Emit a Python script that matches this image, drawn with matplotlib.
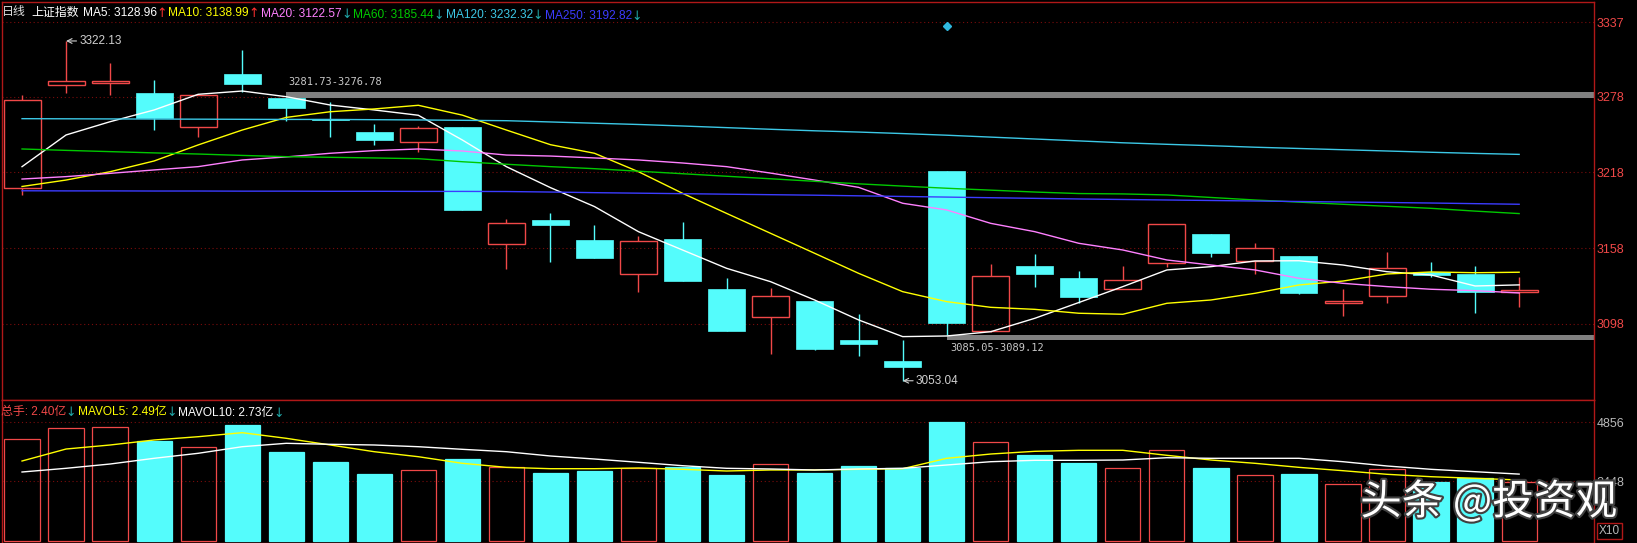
import matplotlib.pyplot as plt
from matplotlib.patches import Rectangle
import matplotlib.patheffects as pe

plt.rcParams['font.family'] = ['Liberation Sans', 'Noto Sans CJK SC', 'DejaVu Sans']

# daily candles, 上证指数
opens = [3206.0, 3287.5, 3289.0, 3281.3, 3254.4, 3295.7, 3276.78, 3260.5, 3250.1, 3241.9,
         3253.9, 3161.3, 3180.3, 3164.5, 3137.4, 3165.1, 3125.5, 3103.8, 3116.2, 3085.3,
         3068.5, 3219.2, 3092.5, 3144.2, 3134.2, 3126.0, 3146.0, 3169.0, 3147.9, 3151.8,
         3114.4, 3120.0, 3139.5, 3137.6, 3123.6]
highs = [3279.5, 3322.13, 3305.0, 3291.0, 3279.5, 3315.0, 3276.78, 3274.0, 3256.2, 3255.0,
         3253.9, 3181.0, 3185.6, 3176.4, 3167.7, 3178.5, 3134.2, 3126.3, 3116.2, 3105.9,
         3085.05, 3219.2, 3145.5, 3153.4, 3140.0, 3143.9, 3176.9, 3169.0, 3161.9, 3151.8,
         3125.9, 3155.0, 3147.1, 3143.9, 3135.2]
lows = [3200.3, 3280.8, 3279.5, 3252.0, 3246.4, 3281.73, 3258.4, 3246.4, 3240.0, 3234.4,
        3188.3, 3141.6, 3147.3, 3150.0, 3123.6, 3132.3, 3092.7, 3074.2, 3077.4, 3072.6,
        3053.04, 3089.12, 3092.0, 3127.0, 3114.4, 3126.0, 3143.4, 3150.8, 3137.6, 3121.5,
        3104.6, 3114.4, 3135.5, 3106.5, 3111.7]
closes = [3275.5, 3290.4, 3290.4, 3261.0, 3279.5, 3288.0, 3268.8, 3259.5, 3244.0, 3253.6,
          3188.3, 3178.0, 3176.2, 3150.5, 3163.5, 3132.3, 3092.7, 3119.9, 3078.4, 3082.4,
          3064.2, 3099.0, 3136.0, 3137.4, 3119.7, 3132.6, 3176.9, 3154.5, 3157.9, 3122.8,
          3116.2, 3142.1, 3136.9, 3123.1, 3124.7]

ma5 = [3222.6, 3247.7, 3258.2, 3267.5, 3279.9, 3282.5, 3278.0, 3271.4, 3267.5, 3263.3,
       3243.7, 3222.6, 3206.0, 3191.0, 3171.1, 3156.6, 3142.1, 3131.5, 3117.0, 3101.2,
       3088.0, 3088.5, 3091.9, 3102.5, 3115.0, 3127.6, 3140.8, 3143.4, 3147.9, 3148.1,
       3144.7, 3139.4, 3136.8, 3128.1, 3128.96]
ma10 = [3206.9, 3212.0, 3218.6, 3227.1, 3239.8, 3251.6, 3261.6, 3266.1, 3268.3, 3271.2,
        3263.4, 3251.6, 3240.0, 3233.2, 3218.6, 3201.5, 3185.6, 3169.8, 3154.0, 3138.1,
        3123.6, 3115.7, 3111.2, 3109.6, 3106.5, 3105.7, 3114.4, 3117.0, 3122.3, 3128.9,
        3132.0, 3137.6, 3139.2, 3138.6, 3138.99]
ma20 = [3212.8, 3214.7, 3217.3, 3220.0, 3222.6, 3227.9, 3230.3, 3233.2, 3235.3, 3236.6,
        3235.0, 3231.8, 3231.0, 3229.5, 3227.9, 3225.5, 3222.6, 3217.5, 3212.0, 3206.2,
        3193.6, 3188.3, 3177.7, 3171.1, 3161.9, 3156.6, 3148.7, 3144.7, 3140.8, 3134.2,
        3130.2, 3127.6, 3125.5, 3124.4, 3122.57]
ma60 = [3236.6, 3235.5, 3234.5, 3233.5, 3232.6, 3231.5, 3230.5, 3230.0, 3229.5, 3228.9,
        3226.5, 3224.5, 3222.6, 3221.0, 3219.0, 3217.0, 3215.0, 3213.0, 3211.0, 3209.0,
        3207.2, 3205.5, 3204.0, 3202.5, 3201.3, 3201.0, 3200.2, 3198.2, 3196.2, 3194.5,
        3192.8, 3191.2, 3189.6, 3187.4, 3185.44]
ma120 = [3260.6, 3260.5, 3260.4, 3260.3, 3260.2, 3260.1, 3260.0, 3260.0, 3259.8, 3259.6,
         3259.3, 3259.0, 3258.0, 3257.0, 3256.0, 3254.8, 3253.5, 3252.2, 3251.0, 3250.0,
         3248.8, 3247.5, 3246.0, 3244.5, 3243.0, 3241.5, 3240.3, 3239.2, 3238.0, 3237.0,
         3236.0, 3235.0, 3234.0, 3233.1, 3232.32]
ma250 = [3203.5, 3203.4, 3203.4, 3203.3, 3203.3, 3203.2, 3203.2, 3203.1, 3203.1, 3203.0,
         3203.0, 3202.9, 3202.5, 3202.0, 3201.6, 3201.2, 3200.8, 3200.4, 3200.0, 3199.5,
         3199.0, 3198.5, 3198.0, 3197.5, 3197.0, 3196.6, 3196.2, 3195.8, 3195.4, 3195.0,
         3194.6, 3194.2, 3193.8, 3193.3, 3192.82]

# volume in 10万手 (axis shows X10)
volume = [4150, 4599, 4640, 4081, 3848, 4733, 3632, 3224, 2734, 2885,
          3346, 3020, 2775, 2857, 2992, 3006, 2694, 3130, 2788, 3061,
          2979, 4856, 4027, 3510, 3196, 2967, 3701, 2979, 2681, 2734,
          2314, 2926, 2396, 2559, 2400]
mavol5 = [3265, 3754, 3918, 4122, 4256, 4420, 4191, 3918, 3644, 3440,
          3171, 3006, 2951, 2951, 2979, 2926, 2857, 2898, 2898, 2926,
          2951, 3375, 3550, 3660, 3701, 3701, 3497, 3306, 3171, 3006,
          2869, 2722, 2624, 2559, 2490]
mavol10 = [2816, 2967, 3142, 3375, 3579, 3848, 3987, 3946, 3918, 3848,
           3742, 3644, 3469, 3346, 3212, 3073, 2967, 2939, 2898, 2939,
           2967, 3102, 3236, 3293, 3293, 3306, 3399, 3375, 3375, 3375,
           3236, 3061, 2926, 2828, 2730]

price_ticks = [3098, 3158, 3218, 3278, 3337]
vol_ticks = [2448, 4856]
# gaps: (start candle, low, high)
gaps = [(6, 3276.78, 3281.73), (21, 3085.05, 3089.12)]

RED = '#f04848'
CYAN = '#54fcfc'
BORDER = '#b01818'
GRID = '#7a0c0c'
UPC = '#ff3030'
DNC = '#20a8a8'

W, H = 1637, 543
fig = plt.figure(figsize=(W / 100, H / 100), dpi=100, facecolor='black')


def box(x0, y0, x1, y1):
    return [x0 / W, 1 - y1 / H, (x1 - x0) / W, (y1 - y0) / H]


ax = fig.add_axes(box(2, 2, 1594, 400), facecolor='black')
axv = fig.add_axes(box(2, 400, 1594, 543), facecolor='black')
xmax = 35.7
n = len(closes)
idx = list(range(n))

# candles
bw = 0.84
for i in idx:
    o, h, l, c = opens[i], highs[i], lows[i], closes[i]
    lo_b, hi_b = min(o, c), max(o, c)
    if c >= o:
        ax.vlines(i, l, lo_b, color=RED, lw=1, zorder=2)
        ax.vlines(i, hi_b, h, color=RED, lw=1, zorder=2)
        ax.add_patch(Rectangle((i - bw / 2, lo_b), bw, max(hi_b - lo_b, 0.4),
                               facecolor='none', edgecolor=RED, lw=1, zorder=2))
    else:
        ax.vlines(i, l, h, color=CYAN, lw=1, zorder=2)
        ax.add_patch(Rectangle((i - bw / 2, lo_b), bw, max(hi_b - lo_b, 0.6),
                               facecolor=CYAN, edgecolor=CYAN, lw=0.5, zorder=2))

ma_lines = [('MA5', ma5, '#ffffff'), ('MA10', ma10, '#ffff00'), ('MA20', ma20, '#ff80ff'),
            ('MA60', ma60, '#00c800'), ('MA120', ma120, '#3cc8e6'), ('MA250', ma250, '#3c3cff')]
for name, vals, col in ma_lines:
    ax.plot(idx, vals, color=col, lw=1, zorder=3)

# gap bands
for start, lo, hi in gaps:
    ax.fill_between([start, xmax], lo, hi, color='#808080', lw=0, zorder=2.5)
ax.text(gaps[0][0] + 0.05, 3289.5, f'{gaps[0][2]:.2f}-{gaps[0][1]:.2f}', color='#c8c8c8',
        fontsize=7.5, family='DejaVu Sans Mono', va='center', ha='left')
ax.text(gaps[1][0] + 0.08, 3079.0, f'{gaps[1][1]:.2f}-{gaps[1][2]:.2f}', color='#c8c8c8',
        fontsize=7.5, family='DejaVu Sans Mono', va='center', ha='left')

# extreme labels
hi_i = highs.index(max(highs))
lo_i = lows.index(min(lows))
ax.annotate(f'{highs[hi_i]:.2f}', xy=(hi_i, highs[hi_i]), xytext=(hi_i + 0.3, highs[hi_i]),
            color='#d0d0d0', fontsize=8.5, va='center', ha='left',
            arrowprops=dict(arrowstyle='->', color='#d0d0d0', lw=0.8, shrinkA=0, shrinkB=0))
ax.annotate(f'{lows[lo_i]:.2f}', xy=(lo_i, lows[lo_i]), xytext=(lo_i + 0.3, lows[lo_i]),
            color='#d0d0d0', fontsize=8.5, va='center', ha='left',
            arrowprops=dict(arrowstyle='->', color='#d0d0d0', lw=0.8, shrinkA=0, shrinkB=0))
ax.plot([21], [3334], marker='D', color='#30b8e0', markersize=4, zorder=4)

for t in price_ticks:
    ax.axhline(t, color=GRID, lw=0.8, ls=(0, (1, 2.5)), zorder=0.5)
ax.set_xlim(-0.455, xmax)
ax.set_ylim(3037.8, 3353.0)
ax.set_xticks([])
ax.yaxis.tick_right()
ax.set_yticks(price_ticks)
ax.set_yticklabels([str(t) for t in price_ticks])
ax.tick_params(axis='y', length=0, pad=2, labelcolor=RED, labelsize=9)

# volume pane
up = [closes[i] >= opens[i] for i in idx]
axv.bar(idx, volume, width=0.8, facecolor=['none' if u else CYAN for u in up],
        edgecolor=[RED if u else CYAN for u in up], lw=0.9, zorder=2)
axv.plot(idx, mavol5, color='#ffff00', lw=1, zorder=3)
axv.plot(idx, mavol10, color='#ffffff', lw=1, zorder=3)
for t in vol_ticks:
    axv.axhline(t, color=GRID, lw=0.8, ls=(0, (1, 2.5)), zorder=0.5)
axv.set_xlim(-0.455, xmax)
axv.set_ylim(-81, 5754)
axv.set_xticks([])
axv.yaxis.tick_right()
axv.set_yticks(vol_ticks)
axv.set_yticklabels([str(t) for t in vol_ticks])
axv.tick_params(axis='y', length=0, pad=2, labelcolor='#b8b8b8', labelsize=9)

for a in (ax, axv):
    for s in a.spines.values():
        s.set_color(BORDER)
        s.set_linewidth(1)


# legends: each label follows the previous trend arrow, arrow right behind its label
def after(prev, s, col, gap, size=8.6, family=None, dy=0):
    kw = {'family': family} if family else {}
    a = plt.Annotation(s, xy=(1, 0.5), xycoords=prev, xytext=(gap, dy),
                       textcoords='offset points', color=col, fontsize=size,
                       va='center', ha='left', annotation_clip=False, **kw)
    fig.add_artist(a)
    return a


def legend_row(prev, items, first_gap):
    gap = first_gap
    for label, vals, col in items:
        txt = after(prev, label, col, gap)
        rising = vals[-1] >= vals[-2]
        prev = after(txt, '↑' if rising else '↓', UPC if rising else DNC, -0.3,
                     size=9, family='DejaVu Sans', dy=-0.5)
        gap = 1.2


fig.text(2 / W, 1 - 12.5 / H, '日线', color='#e0e0e0', fontsize=8.6, va='center', ha='left')
name_txt = fig.text(31 / W, 1 - 12.5 / H, '上证指数', color='#ffffff', fontsize=8.6,
                    va='center', ha='left')
legend_row(name_txt, [(f'{name}: {vals[-1]:.2f}', vals, col) for name, vals, col in ma_lines], 3.0)

vol_first = fig.text(1 / W, 1 - 411.5 / H, '', fontsize=8.6, va='center', ha='left')
legend_row(vol_first, [(f'总手: {volume[-1] / 1000:.2f}亿', volume, RED),
                       (f'MAVOL5: {mavol5[-1] / 1000:.2f}亿', mavol5, '#ffff00'),
                       (f'MAVOL10: {mavol10[-1] / 1000:.2f}亿', mavol10, '#ffffff')], 0)

fig.text(1599 / W, 1 - 531 / H, 'X10', color='#b8b8b8', fontsize=8.5, va='center', ha='left',
         bbox=dict(boxstyle='square,pad=0.15', facecolor='none', edgecolor=BORDER, lw=1))

# watermark
fig.text(1617 / W, 1 - 502 / H, '头条 @投资观', color='#ffffff', fontsize=30, va='center',
         ha='right', family=['Noto Sans CJK SC', 'DejaVu Sans'], weight='medium',
         path_effects=[pe.withStroke(linewidth=3, foreground='#404040')])

fig.savefig('out.png', dpi=100, facecolor='black')
